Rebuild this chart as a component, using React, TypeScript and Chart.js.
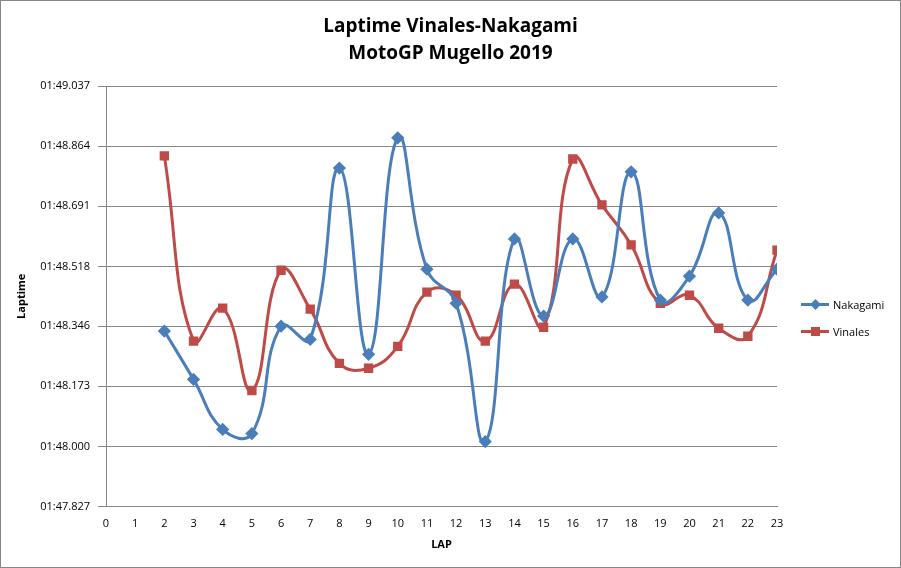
import React, { useEffect, useRef } from "react";
import { Chart, registerables } from "chart.js";
Chart.register(...registerables);

const laps = [2,3,4,5,6,7,8,9,10,11,12,13,14,15,16,17,18,19,20,21,22,23];
const nakagami = [108.332,108.193,108.049,108.037,108.346,108.308,108.801,108.265,108.888,108.510,108.412,108.014,108.597,108.375,108.597,108.430,108.790,108.421,108.490,108.672,108.421,108.510];
const vinales = [108.836,108.303,108.398,108.161,108.507,108.395,108.239,108.225,108.288,108.444,108.435,108.303,108.467,108.343,108.827,108.695,108.580,108.412,108.435,108.340,108.317,108.565];
const yTicks = [107.827,108.0,108.173,108.346,108.518,108.691,108.864,109.037];
const seriesNames = ["Nakagami", "Vinales"];
const colors = ["#4a7ebb", "#be4b48"];

const fmt = (v: number) => {
  const s = v - 60;
  const sec = Math.floor(s);
  const ms = Math.round((s - sec) * 1000);
  return `01:${String(sec).padStart(2, "0")}.${String(ms).padStart(3, "0")}`;
};

export default function App() {
  const ref = useRef<HTMLCanvasElement>(null);
  useEffect(() => {
    const font = "'Open Sans', 'Liberation Sans', sans-serif";
    const ch = new Chart(ref.current!, {
      type: "line",
      data: {
        datasets: [
          { label: seriesNames[0], data: laps.map((x, i) => ({ x, y: nakagami[i] })), borderColor: colors[0], backgroundColor: colors[0], borderWidth: 3, tension: 0.45, pointStyle: "rectRot", pointRadius: 4.5, pointHoverRadius: 4.5 },
          { label: seriesNames[1], data: laps.map((x, i) => ({ x, y: vinales[i] })), borderColor: colors[1], backgroundColor: colors[1], borderWidth: 3, tension: 0.45, pointStyle: "rect", pointRadius: 4.5, pointHoverRadius: 4.5 },
        ],
      },
      options: {
        animation: false,
        responsive: false,
        layout: { padding: { top: 85, right: 123, left: 10, bottom: 12 } },
        plugins: {
          legend: { display: false },
          tooltip: { enabled: false },
        },
        scales: {
          x: { type: "linear", min: 0, max: 23, grid: { display: false }, border: { color: "#868686" },
            ticks: { stepSize: 1, color: "#000", font: { family: font, size: 11 } },
            title: { display: true, text: "LAP", color: "#000", font: { family: font, size: 11, weight: "bold" } } },
          y: { min: yTicks[0], max: yTicks[yTicks.length - 1],
            afterBuildTicks: (s: any) => { s.ticks = yTicks.map((v) => ({ value: v })); },
            grid: { color: "#868686" }, border: { color: "#868686" },
            ticks: { color: "#000", font: { family: font, size: 11 }, callback: (v: any) => fmt(Number(v)), padding: 8 },
            title: { display: true, text: "Laptime", color: "#000", font: { family: font, size: 11, weight: "bold" } } },
        },
      },
    });
    return () => ch.destroy();
  }, []);
  return (
    <div style={{ position: "fixed", left: 0, top: 0, width: 901, height: 568, background: "#fff", boxSizing: "border-box", border: "1px solid #868686", fontFamily: "'Open Sans', sans-serif", fontSize: 11 }}>
      <canvas ref={ref} width={899} height={566} />
      <div style={{ position: "absolute", left: 0, top: 11, width: 899, textAlign: "center", fontSize: 19, fontWeight: "bold", lineHeight: "27px" }}>
        <div>Laptime Vinales-Nakagami</div>
        <div>MotoGP Mugello 2019</div>
      </div>
      {seriesNames.map((n, i) => (
        <div key={n} style={{ position: "absolute", left: 800, top: 296 + i * 27, display: "flex", alignItems: "center" }}>
          <div style={{ position: "relative", width: 28, height: 3, background: colors[i] }}>
            <div style={{ position: "absolute", left: 10, top: -3.5, width: 9, height: 9, background: colors[i], transform: i === 0 ? "rotate(45deg) scale(0.85)" : "none" }} />
          </div>
          <span style={{ marginLeft: 4 }}>{n}</span>
        </div>
      ))}
    </div>
  );
}
